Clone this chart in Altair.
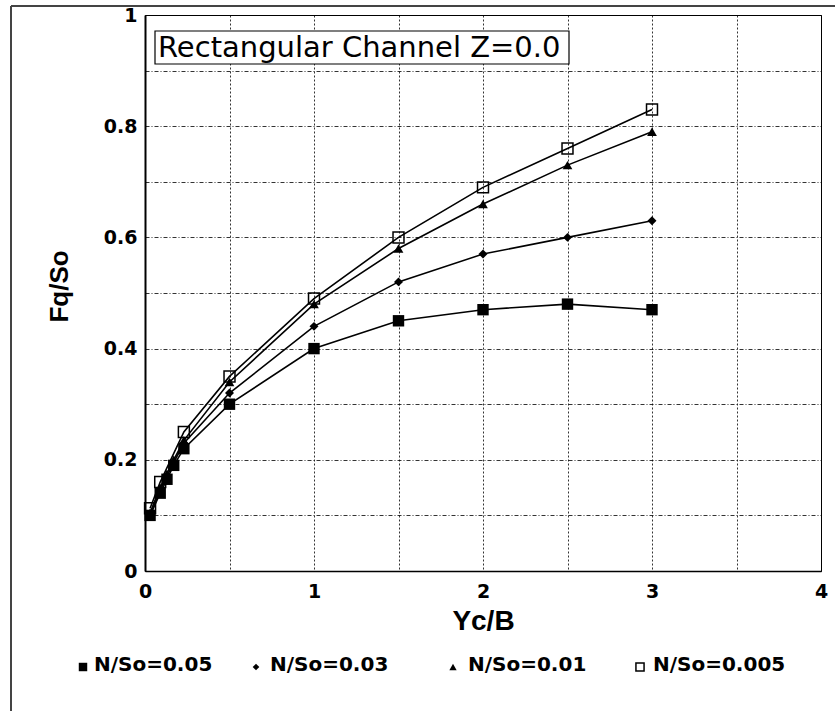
import altair as alt
import pandas as pd

# ---- data ----
series_names = ["N/So=0.05", "N/So=0.03", "N/So=0.01", "N/So=0.005"]

x_005 = [0.03, 0.09, 0.13, 0.17, 0.23, 0.5, 1.0, 1.5, 2.0, 2.5, 3.0]
y_005 = [0.10, 0.14, 0.165, 0.19, 0.22, 0.30, 0.40, 0.45, 0.47, 0.48, 0.47]

x_003 = [0.03, 0.09, 0.13, 0.17, 0.23, 0.5, 1.0, 1.5, 2.0, 2.5, 3.0]
y_003 = [0.10, 0.145, 0.17, 0.195, 0.23, 0.32, 0.44, 0.52, 0.57, 0.60, 0.63]

x_001 = [0.03, 0.09, 0.13, 0.17, 0.23, 0.5, 1.0, 1.5, 2.0, 2.5, 3.0]
y_001 = [0.105, 0.15, 0.175, 0.20, 0.235, 0.34, 0.48, 0.58, 0.66, 0.73, 0.79]

x_0005 = [0.03, 0.09, 0.23, 0.5, 1.0, 1.5, 2.0, 2.5, 3.0]
y_0005 = [0.113, 0.16, 0.25, 0.35, 0.49, 0.60, 0.69, 0.76, 0.83]

x_ticks = [0, 0.5, 1, 1.5, 2, 2.5, 3, 3.5, 4]
y_ticks = [0, 0.1, 0.2, 0.3, 0.4, 0.5, 0.6, 0.7, 0.8, 0.9, 1.0]

title_text = "Rectangular Channel Z=0.0"
x_title = "Yc/B"
y_title = "Fq/So"

# ---- build table ----
rows = []
for name, xs, ys in zip(series_names, [x_005, x_003, x_001, x_0005], [y_005, y_003, y_001, y_0005]):
    for xv, yv in zip(xs, ys):
        rows.append({"series": name, "x": xv, "y": yv})
df = pd.DataFrame(rows)

styles = {
    "N/So=0.05": dict(shape="square", filled=True, size=130),
    "N/So=0.03": dict(shape="diamond", filled=True, size=80),
    "N/So=0.01": dict(shape="triangle-up", filled=True, size=95),
    "N/So=0.005": dict(shape="square", filled=False, size=120),
}

xscale = alt.Scale(domain=[0, 4], nice=False)
yscale = alt.Scale(domain=[0, 1], nice=False)

axis_font = "DejaVu Sans"
x_axis = alt.Axis(
    values=x_ticks, grid=True, ticks=False,
    labelExpr="datum.value % 1 == 0 ? format(datum.value, 'd') : ''",
    labelFont=axis_font, labelFontWeight="bold", labelFontSize=19, labelColor="black",
    labelPadding=11, labelFlush=False,
    title=x_title, titleFont="Liberation Sans", titleFontWeight="bold", titleFontSize=28,
    titleColor="black", titleBaseline="middle", titleY=50,
    domainColor="black", domainWidth=1.5,
    gridDash=[2, 2],
)
y_axis = alt.Axis(
    values=y_ticks, grid=True, ticks=False,
    labelExpr="round(datum.value * 10) % 2 == 0 ? format(datum.value, '.1~f') : ''",
    labelFont=axis_font, labelFontWeight="bold", labelFontSize=19, labelColor="black",
    labelPadding=8, labelFlush=False,
    title=y_title, titleFont="Liberation Sans", titleFontWeight="bold", titleFontSize=26,
    titleColor="black", titleBaseline="middle", titleX=-86, titleY=271,
    domainColor="black", domainWidth=2,
    gridDash=[4, 2, 1, 2],
)

lines = alt.Chart(df).mark_line(color="black", strokeWidth=1.6).encode(
    x=alt.X("x:Q", scale=xscale, axis=x_axis),
    y=alt.Y("y:Q", scale=yscale, axis=y_axis),
    detail="series:N",
    order="x:Q",
)

layers = [lines]
for name in series_names:
    st = styles[name]
    pts = alt.Chart(df).transform_filter(alt.datum.series == name).mark_point(
        shape=st["shape"], filled=st["filled"], size=st["size"], color="black",
        opacity=1, strokeWidth=1.5,
    ).encode(x=alt.X("x:Q", scale=xscale), y=alt.Y("y:Q", scale=yscale))
    layers.append(pts)

one = pd.DataFrame({"k": [0]})

# title box inside plot
box = alt.Chart(one).mark_rect(fill="white", stroke="black", strokeWidth=1.2).encode(
    x=alt.value(10), x2=alt.value(424), y=alt.value(16), y2=alt.value(49)
)
box_text = alt.Chart(one).mark_text(
    align="left", baseline="middle", font="DejaVu Sans", fontSize=29, color="black"
).encode(x=alt.value(13), y=alt.value(33), text=alt.value(title_text))
layers += [box, box_text]

# figure frame (left and top lines)
frame_left = alt.Chart(one).mark_rule(color="#444", strokeWidth=2).encode(
    x=alt.value(-134), y=alt.value(-9), y2=alt.value(720)
)
frame_top = alt.Chart(one).mark_rule(color="#444", strokeWidth=2).encode(
    x=alt.value(-134), x2=alt.value(720), y=alt.value(-9)
)
layers += [frame_left, frame_top]

# manual legend row
leg_sym_x = [-62, 111, 308, 495]
leg_txt_x = [-51, 125, 323, 508]
leg_y = 650
for name, sx, tx in zip(series_names, leg_sym_x, leg_txt_x):
    st = styles[name]
    d1 = pd.DataFrame({"series": [name]})
    sym = alt.Chart(d1).mark_point(
        shape=st["shape"], filled=st["filled"], size=max(40, st["size"] * 0.55),
        color="black", opacity=1, strokeWidth=1.5,
    ).encode(x=alt.value(sx), y=alt.value(leg_y + 2))
    txt = alt.Chart(d1).mark_text(
        align="left", baseline="middle", font=axis_font, fontWeight="bold",
        fontSize=20, color="black",
    ).encode(x=alt.value(tx), y=alt.value(leg_y), text="series:N")
    layers += [sym, txt]

chart = alt.layer(*layers).properties(
    width=676, height=556,
    autosize=alt.AutoSizeParams(type="none"),
    padding={"left": 145, "top": 15, "right": 14, "bottom": 140},
    background="white",
).configure_view(
    stroke="black", strokeWidth=1
).configure_axis(
    gridColor="black", gridWidth=1, gridOpacity=0.8,
)

chart.save("out.html", embed_options={"renderer": "svg", "actions": False})
